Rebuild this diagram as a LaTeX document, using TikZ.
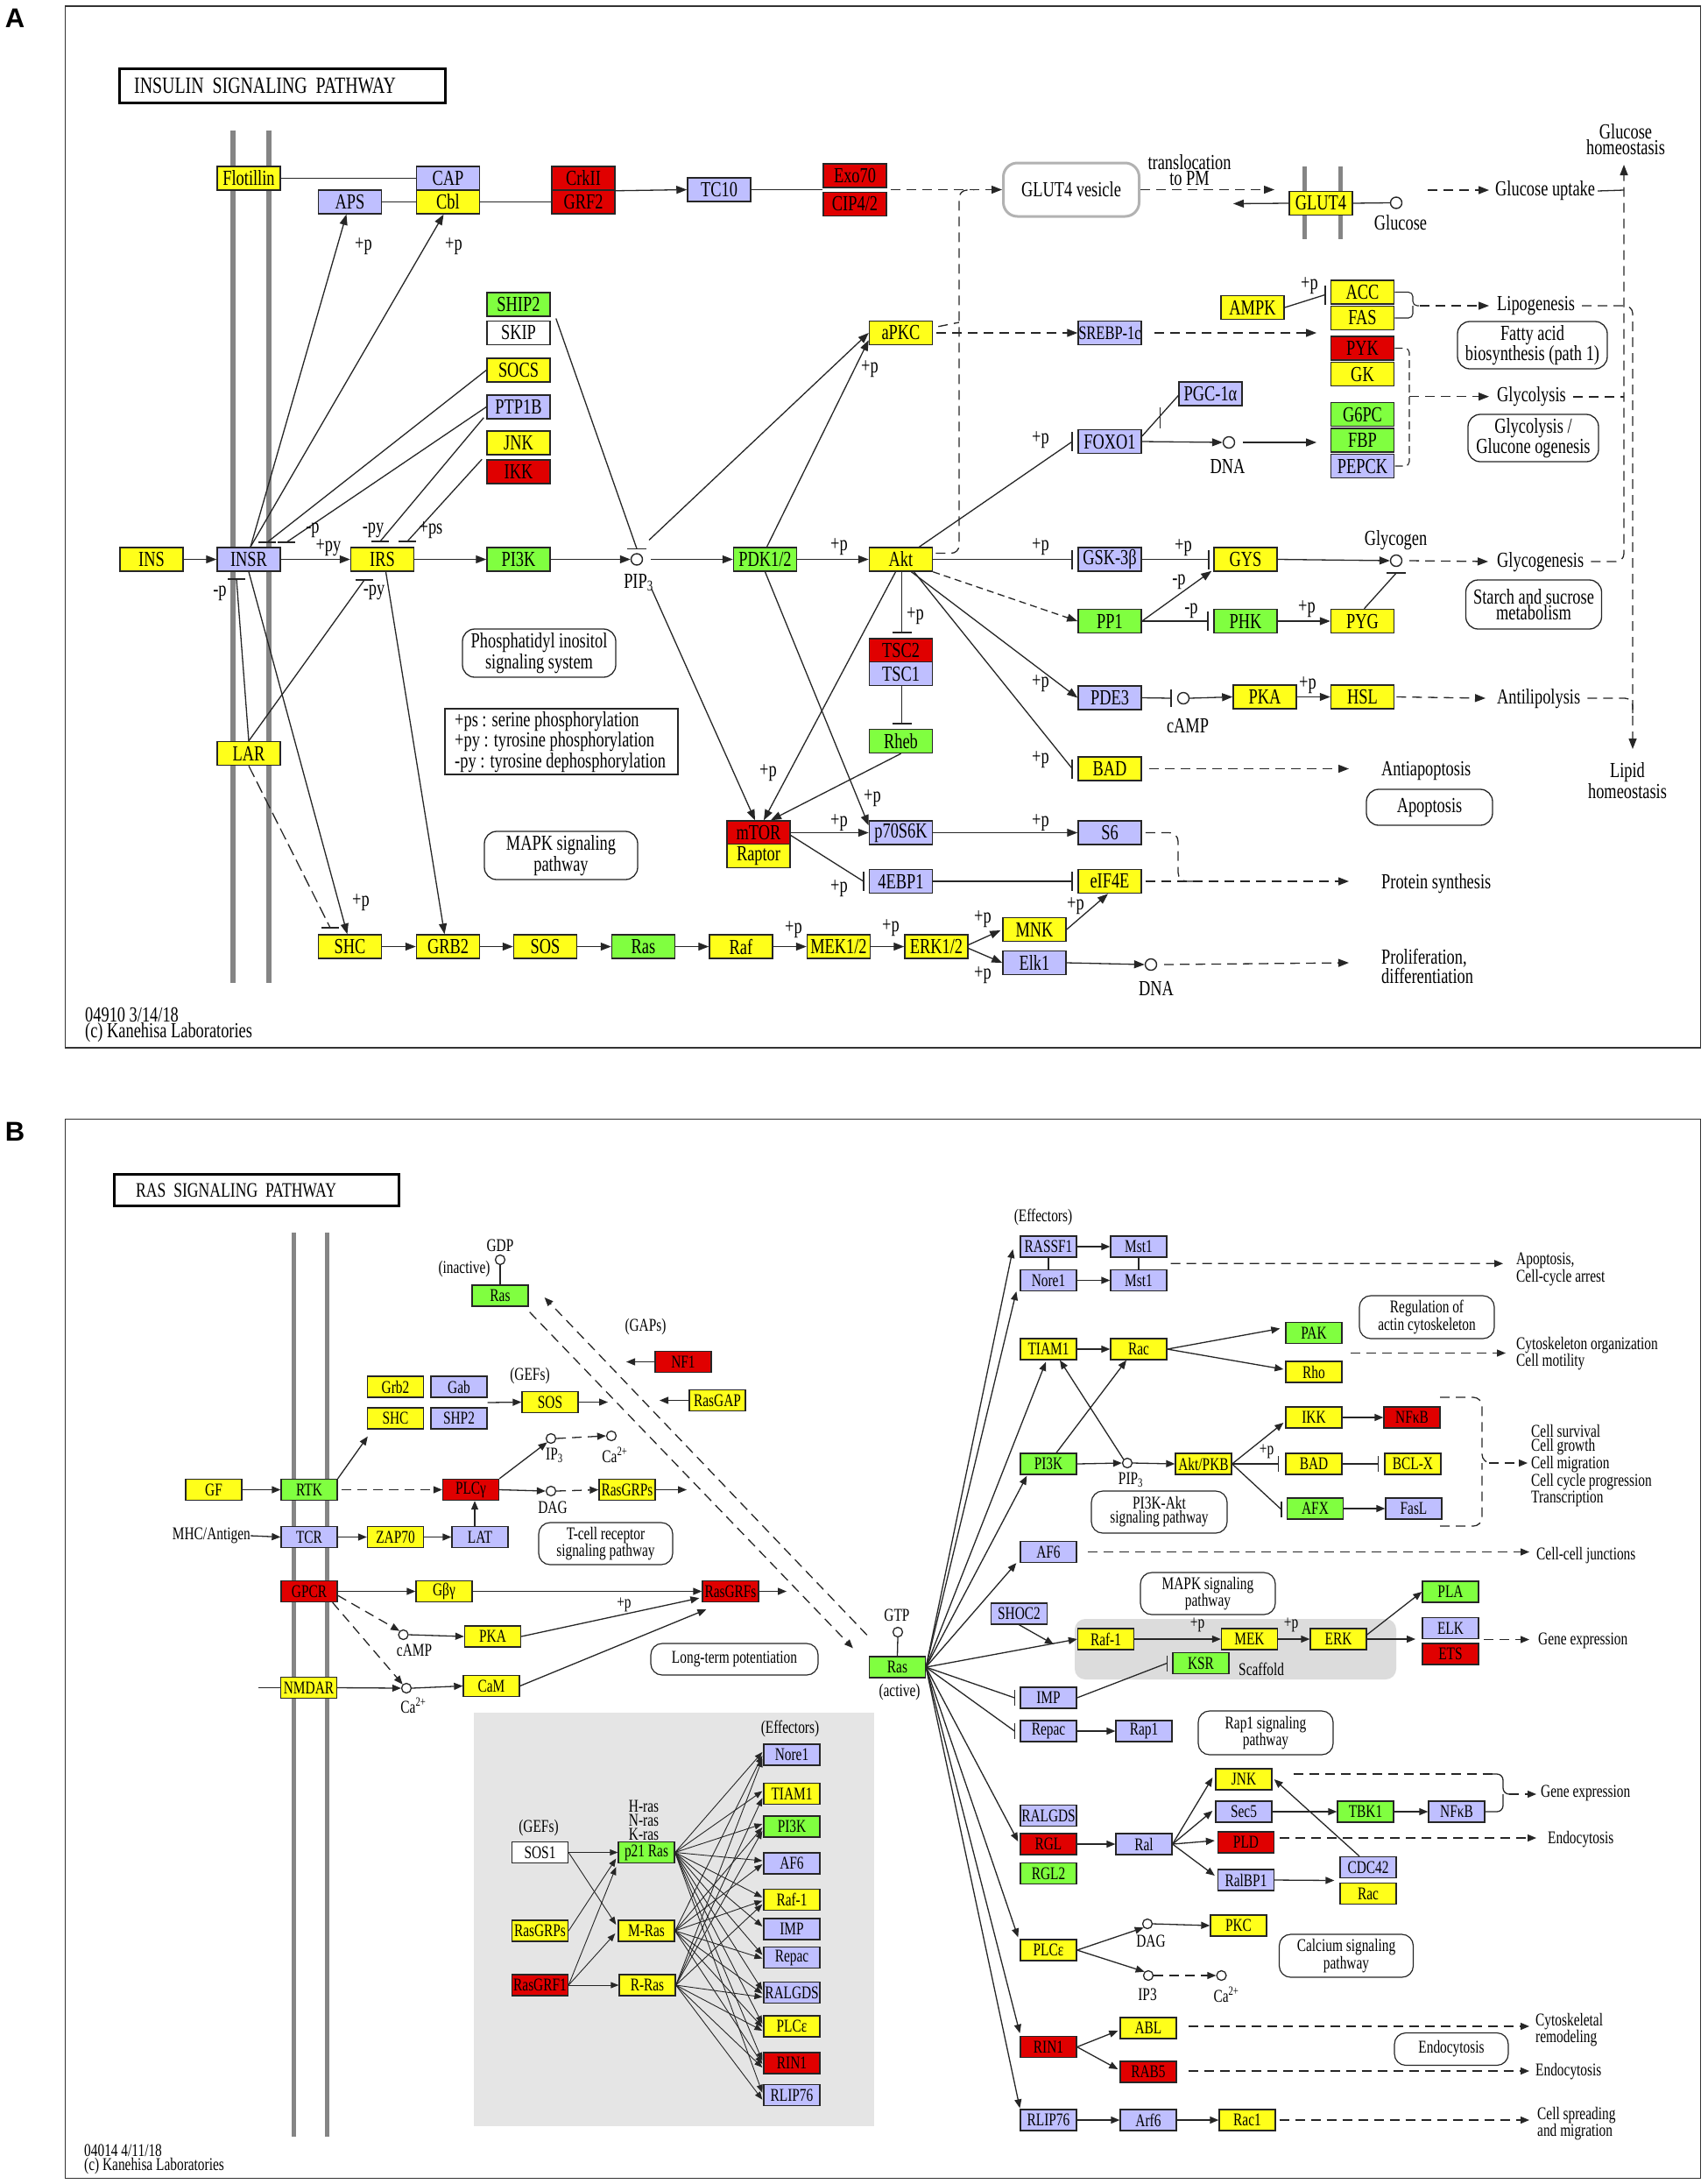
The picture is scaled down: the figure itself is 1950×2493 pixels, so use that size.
\documentclass[tikz,border=0pt]{standalone}
\usepackage{fontspec}
\setmainfont{Liberation Serif}
\newfontfamily\kf{Liberation Serif}[FakeStretch=0.75]
\newfontfamily\lsans{Liberation Sans}
\newcommand\kfa{\kf\fontsize{24.5}{18}\selectfont}
\newcommand\kfb{\kf\fontsize{20.5}{16}\selectfont}
\usetikzlibrary{arrows.meta,calc}
\definecolor{kyel}{HTML}{FFFF1A}
\definecolor{klav}{HTML}{BFBFFF}
\definecolor{kgrn}{HTML}{80FF40}
\definecolor{kred}{HTML}{E00000}
\definecolor{kgray}{HTML}{858585}
\definecolor{kbg}{HTML}{E5E5E5}
\definecolor{kscf}{HTML}{DCDCDC}
\newcommand\inhV[3][11]{\draw[ln] #2 -- #3 coordinate (tmpb); \draw[barst] ($(tmpb)+(0,-#1)$) -- ($(tmpb)+(0,#1)$);}
\newcommand\inhH[3][11]{\draw[ln] #2 -- #3 coordinate (tmpb); \draw[barst] ($(tmpb)+(-#1,0)$) -- ($(tmpb)+(#1,0)$);}
\begin{document}
\begin{tikzpicture}[x=1pt,y=-1pt,
  bx/.style={draw=black!85,line width=1.5pt,minimum width=72pt,minimum height=27pt,inner sep=0pt,font=\kfa},
  bxb/.style={draw=black!85,line width=1.3pt,minimum width=64pt,minimum height=24pt,inner sep=0pt,font=\kfb},
  cY/.style={fill=kyel},cL/.style={fill=klav},cG/.style={fill=kgrn},cR/.style={fill=kred},cW/.style={fill=white},
  ln/.style={line width=1.3pt,draw=black!85},
  ar/.style={ln,-{Triangle[length=12pt,width=9pt]}},
  arb/.style={ln,-{Triangle[length=10pt,width=8pt]}},
  ars/.style={line width=0.9pt,draw=black!85,-{Triangle[length=9pt,width=7pt]}},
  dsh/.style={dash pattern=on 11pt off 7pt},
  barst/.style={line width=1.6pt,draw=black!85},
  cir/.style={circle,draw=black!85,line width=1.4pt,minimum size=13pt,inner sep=0pt,fill=white},
  cirb/.style={circle,draw=black!85,line width=1.3pt,minimum size=11pt,inner sep=0pt,fill=white},
  rbox/.style={draw=black!85,line width=1.3pt,rounded corners=14pt,align=center,font=\kfa,inner sep=0pt},
  rboxb/.style={draw=black!85,line width=1.2pt,rounded corners=13pt,align=center,font=\kfb,inner sep=0pt},
  lbl/.style={font=\kfa,inner sep=0pt},
  lblb/.style={font=\kfb,inner sep=0pt},
]
\useasboundingbox (0,0) rectangle (1950,2493);
\fill[white] (0,0) rectangle (1950,2493);

%%%%%%%%%%%%%%%%%%%%%%%% PANEL A %%%%%%%%%%%%%%%%%%%%%%%%
\draw[line width=1.6pt,black!80] (74.5,7) rectangle (1941.5,1196);
\node[font=\lsans\bfseries\fontsize{31}{31}\selectfont,inner sep=0pt] (labA) at (17,21) {A};
\draw[line width=3pt] (136,78) rectangle (508,117);
\node[font=\kf\fontsize{26.5}{26.5}\selectfont,inner sep=0pt,anchor=west] (titA) at (153,97.5) {INSULIN\ \ SIGNALING\ \ PATHWAY};

\draw[line width=5.5pt,kgray] (266,148.5) -- (266,1121.5);
\draw[line width=5.5pt,kgray] (307,148.5) -- (307,1121.5);
\draw[line width=5pt,kgray] (1489,190) -- (1489,273);
\draw[line width=5pt,kgray] (1530,190) -- (1530,273);

% nodes
\node[bx,cY] (flot) at (284,203.5) {Flotillin};
\node[bx,cL] (cap) at (511.5,203.5) {CAP};
\node[bx,cY] (cbl) at (511.5,230.5) {Cbl};
\node[bx,cL] (aps) at (399.5,230.5) {APS};
\node[bx,cR] (crk) at (666,203.5) {CrkII};
\node[bx,cR] (grf2) at (666,230.5) {GRF2};
\node[bx,cL] (tc10) at (821,216.5) {TC10};
\node[bx,cR] (exo) at (976,200.5) {Exo70};
\node[bx,cR] (cip) at (976,233) {CIP4/2};
\node[rbox,draw=gray!60,line width=3pt,rounded corners=16pt,minimum width=155pt,minimum height=61pt] (ves) at (1223,216.5) {GLUT4 vesicle};
\node[bx,cY] (glut4) at (1508,232) {GLUT4};
\node[cir] (gluc) at (1594,231.5) {};

\node[bx,cG] (ship2) at (592,347.5) {SHIP2};
\node[bx,cW] (skip) at (592,380) {SKIP};
\node[bx,cY] (socs) at (592,422.5) {SOCS};
\node[bx,cL] (ptp) at (592,464.5) {PTP1B};
\node[bx,cY] (jnk) at (592,505.5) {JNK};
\node[bx,cR] (ikk) at (592,538.5) {IKK};

\node[bx,cY] (apkc) at (1028.5,380) {aPKC};
\node[bx,cL,font=\kf\fontsize{22}{18}\selectfont] (srebp) at (1267,380) {SREBP-1c};
\node[bx,cY] (ampk) at (1430,351) {AMPK};
\node[bx,cY] (acc) at (1555.5,333.5) {ACC};
\node[bx,cY] (fas) at (1555.5,363) {FAS};
\node[bx,cR] (pyk) at (1555.5,397.5) {PYK};
\node[bx,cY] (gk) at (1555.5,427) {GK};
\node[bx,cG] (g6pc) at (1555.5,473) {G6PC};
\node[bx,cG] (fbp) at (1555.5,502.5) {FBP};
\node[bx,cL] (pepck) at (1555.5,532) {PEPCK};
\node[bx,cL] (pgc) at (1382,449.5) {PGC-1α};
\node[bx,cL] (foxo) at (1267,504) {FOXO1};
\node[cir] (dna1) at (1403,505) {};

\node[bx,cY] (ins) at (173,638.5) {INS};
\node[bx,cL] (insr) at (284,638.5) {INSR};
\node[bx,cY] (irs) at (436.5,638.5) {IRS};
\node[bx,cG] (pi3k) at (592,638.5) {PI3K};
\node[cir] (pip3) at (727,638.5) {};
\node[bx,cG] (pdk) at (873.5,638.5) {PDK1/2};
\node[bx,cY] (akt) at (1028.5,638.5) {Akt};
\node[bx,cL] (gsk) at (1267,638.5) {GSK-3β};
\node[bx,cY] (gys) at (1422,638.5) {GYS};
\node[cir] (glyc) at (1594,640) {};
\node[bx,cG] (pp1) at (1267,709) {PP1};
\node[bx,cG] (phk) at (1422,709) {PHK};
\node[bx,cY] (pyg) at (1555.5,709) {PYG};
\node[bx,cR] (tsc2) at (1028.5,742.5) {TSC2};
\node[bx,cL] (tsc1) at (1028.5,769) {TSC1};
\node[bx,cL] (pde3) at (1267,796.5) {PDE3};
\node[cir] (camp) at (1351,797) {};
\node[bx,cY] (pka) at (1444,795.5) {PKA};
\node[bx,cY] (hsl) at (1555.5,795.5) {HSL};
\node[bx,cG] (rheb) at (1028.5,846) {Rheb};
\node[bx,cY] (lar) at (284,860) {LAR};
\node[bx,cY] (bad) at (1267,877.5) {BAD};
\node[bx,cR] (mtor) at (866,950.5) {mTOR};
\node[bx,cY] (raptor) at (866,977) {Raptor};
\node[bx,cL] (p70) at (1028.5,950.5) {p70S6K};
\node[bx,cL] (s6) at (1267,950.5) {S6};
\node[bx,cL] (ebp) at (1028.5,1006) {4EBP1};
\node[bx,cY] (eif) at (1267,1006) {eIF4E};
\node[bx,cY] (mnk) at (1181,1061) {MNK};
\node[bx,cL] (elk1) at (1181,1099) {Elk1};
\node[cir] (dna2) at (1314,1101) {};
\node[bx,cY] (shc) at (399.5,1080.5) {SHC};
\node[bx,cY] (grb2) at (511.5,1080.5) {GRB2};
\node[bx,cY] (sos) at (622.5,1080.5) {SOS};
\node[bx,cG] (rasp) at (734.5,1080.5) {Ras};
\node[bx,cY] (rafa) at (846,1080.5) {Raf};
\node[bx,cY] (meka) at (957.5,1080.5) {MEK1/2};
\node[bx,cY] (erka) at (1069,1080.5) {ERK1/2};

% rounded boxes and legend
\node[rbox,minimum width=175pt,minimum height=55pt] (rbPI) at (615.5,745.5) {Phosphatidyl inositol\\signaling system};
\node[rbox,minimum width=175pt,minimum height=55pt] (rbMAPK) at (640.5,976.5) {MAPK signaling\\pathway};
\node[rbox,minimum width=171pt,minimum height=54pt] (rbFA) at (1749.5,394) {Fatty acid\\biosynthesis (path 1)};
\node[rbox,minimum width=149pt,minimum height=54pt] (rbGly) at (1750.5,500) {Glycolysis /\\Glucone ogenesis};
\node[rbox,minimum width=155pt,minimum height=56pt] (rbSS) at (1751,690) {Starch and sucrose\\metabolism};
\node[rbox,minimum width=144pt,minimum height=41pt] (rbApo) at (1632,921.5) {Apoptosis};
\draw[line width=1.5pt,black!85] (508,809) rectangle (774,884);
\node[lbl,anchor=west,align=left] (legend) at (519,847) {+ps : serine phosphorylation\\+py : tyrosine phosphorylation\\-py : tyrosine dephosphorylation};
\node[lbl,anchor=west,align=left] (footA) at (97,1170) {04910 3/14/18\\(c) Kanehisa Laboratories};

% connectors top
\draw[ln] (flot.east) -- (cap.west);
\draw[ln] (aps.east) -- (cbl.west);
\draw[ln] (cbl.east) -- (grf2.west);
\draw[ar] (crk.south east) -- (tc10.west);
\coordinate (exoj) at (exo.south west |- tc10.east);
\coordinate (exok) at (exo.south east |- tc10.east);
\draw[ln] (tc10.east) -- (exoj);
\draw[ar,dsh] ($(exok)+(4,0)$) -- (ves.west);
\coordinate (glutin) at (1455,216.5);
\draw[ar,dsh] (ves.east) -- (glutin);
\node[lbl,align=center] (transl) at (1358,194) {translocation\\to PM};
\coordinate (glutout) at (1408,232.5);
\draw[ar] (glut4.west) -- (glutout);
\draw[ln] (glut4.east) -- (gluc.west);
\node[lbl] (glucl) at (1599,254) {Glucose};
\coordinate (gu1) at (1630,217);
\coordinate (gu2) at (1700,217);
\draw[ar,dsh] (gu1) -- (gu2);
\node[lbl,anchor=west] (gupt) at (1707,218) {Glucose uptake};
\coordinate (vx1) at (1854,217);
\draw[ln] ($(gupt.east)+(3,0)$) -- (vx1);
\node[lbl,align=center] (ghomeo) at (1856,159) {Glucose\\homeostasis};
\node[lbl,anchor=west] (glygen) at (1709,642) {Glycogenesis};
\coordinate (vtop) at (1854,188);
\draw[ar,dsh,rounded corners=9pt] ($(glygen.east)+(8,-1)$) -- (1854,641) -- (vtop);
\node[lbl,anchor=west] (glycol) at (1709,453) {Glycolysis};
\draw[ln,dsh] ($(glycol.east)+(8,0)$) -- (1854,453);
\node[lbl,anchor=west] (lipo) at (1709,349) {Lipogenesis};
\coordinate (lipidtip) at (1864,855);
\draw[ar,dsh,rounded corners=9pt] ($(lipo.east)+(8,0)$) -- (1864,349) -- (lipidtip);
\node[lbl,anchor=west] (antil) at (1709,798) {Antilipolysis};
\draw[ln,dsh,rounded corners=9pt] ($(antil.east)+(8,-1)$) -- (1864,797) -- (1864,814);
\node[lbl,align=center] (lhomeo) at (1858,891) {Lipid\\homeostasis};

\inhV{(ampk.east)}{($(acc.west)+(-6,3)$)}
\node[lbl] (pA1) at (1495,326) {+p};
\draw[ln,line width=1.1pt,rounded corners=5pt] (acc.east) -- (1613,333.5) -- (1613,349) -- (1620,349);
\draw[ln,line width=1.1pt,rounded corners=5pt] (fas.east) -- (1613,363) -- (1613,349);
\coordinate (lipoS) at (1621,349);
\coordinate (lipoE) at (1700,349);
\draw[ar,dsh] (lipoS) -- (lipoE);
\draw[ln,line width=1.1pt,dash pattern=on 9pt off 5pt,rounded corners=5pt] (pyk.east) -- (1609,397.5) -- (1609,532) -- (pepck.east);
\coordinate (glyS) at (1609,452.7);
\coordinate (glyE) at (1700,452.7);
\draw[ar,dsh] (glyS) -- (glyE);
\coordinate (srebpE) at (1503,380);
\draw[ar,dsh] ($(srebp.east)+(14,0)$) -- (srebpE);
\draw[ar] (foxo.east) -- (dna1.west);
\coordinate (dnaE) at (1503,505);
\draw[ar] ($(dna1.east)+(9,0)$) -- (dnaE);
\node[lbl] (dnal1) at (1401.5,532) {DNA};
\draw[ln] ($(foxo.east)+(0,-6)$) -- ($(pgc.west)+(0,2)$);
\coordinate (fpm) at ($(foxo.east)!0.5!(pgc.west)$);
\draw[barst] ($(fpm)+(0,-12)$) -- ($(fpm)+(0,12)$);
\inhV{($(akt.north)+(21,0)$)}{($(foxo.west)+(-6,0)$)}
\node[lbl] (pA2) at (1188,502) {+p};
\draw[ar] ($(pip3)+(14,-22)$) -- (apkc.west);
\draw[ar] ($(pdk.north)+(2,0)$) -- ($(apkc.south west)+(0,-6)$);
\node[lbl] (pA3) at (993,421) {+p};
\draw[ar,dsh] ($(apkc.east)+(4,0)$) -- (srebp.west);
\draw[ln,dsh] ($(apkc.north east)+(6,7)$) -- (1095,368);
\draw[ln,dsh,rounded corners=9pt] ($(akt.east)+(3,-7)$) -- (1095,631.5) -- (1095,217) -- (1112,217);

% main row
\draw[ar] (ins.east) -- (insr.west);
\draw[ar] (insr.east) -- (irs.west);
\node[lbl] (pA4) at (375,625) {+py};
\draw[ar] (irs.east) -- (pi3k.west);
\draw[ar] (pi3k.east) -- (pip3.west);
\draw[ar] ($(pip3.east)+(9,0)$) -- (pdk.west);
\node[lbl] (pip3l) at (729,665) {PIP\textsubscript{3}};
\draw[ar] (pdk.east) -- (akt.west);
\node[lbl] (pA5) at (958,624) {+p};

\draw[ar] ($(insr.north)+(2,0)$) -- ($(aps.south)+(-4,0)$);
\draw[ar] ($(insr.north)+(2,0)$) -- ($(cbl.south)+(-5,0)$);
\node[lbl] (pA6) at (415,281) {+p};
\node[lbl] (pA7) at (518,281) {+p};
\coordinate (bi1) at (305,619);
\coordinate (bi2) at (327,619);
\coordinate (bi3) at (434,618);
\coordinate (bi4) at (465,618);
\draw[ln] (socs.west) -- (bi1);
\draw[ln] (ptp.west) -- (bi2);
\draw[ln] ($(ptp.south west)+(-3,-2)$) -- (bi3);
\draw[ln] ($(ikk.north west)+(-5,0)$) -- (bi4);
\foreach \q in {bi1,bi2,bi3,bi4} \draw[barst] ($(\q)+(-10,0)$) -- ($(\q)+(10,0)$);
\node[lbl] (mA1) at (357,605) {-p};
\node[lbl] (mA2) at (426,605) {-py};
\node[lbl] (pA8) at (492,605) {+ps};
\inhH{($(ship2.east)+(6,16)$)}{($(pip3.north)+(0,-5)$)}
\coordinate (bl1) at (270,661);
\coordinate (bl2) at (416,662);
\draw[ln] (lar.north) -- (bl1);
\draw[ln] (lar.north) -- (bl2);
\draw[barst] ($(bl1)+(-10,0)$) -- ($(bl1)+(10,0)$);
\draw[barst] ($(bl2)+(-10,0)$) -- ($(bl2)+(10,0)$);
\node[lbl] (mA3) at (251,677) {-p};
\node[lbl] (mA4) at (427,676) {-py};
\draw[ar] (insr.south) -- ($(shc.north)+(-3,0)$);
\coordinate (bl3) at (377,1059);
\draw[ln,dash pattern=on 14pt off 6pt] (lar.south) -- (bl3);
\draw[barst] ($(bl3)+(-10,0)$) -- ($(bl3)+(10,0)$);
\node[lbl] (pA9) at (412,1030) {+p};
\draw[ar] ($(irs.south)+(4,0)$) -- ($(grb2.north)+(-4,0)$);
\draw[ar] (shc.east) -- (grb2.west);
\draw[ar] (grb2.east) -- (sos.west);
\draw[ar] (sos.east) -- (rasp.west);
\draw[ar] (rasp.east) -- (rafa.west);
\draw[ar] (rafa.east) -- (meka.west);
\draw[ar] (meka.east) -- (erka.west);
\node[lbl] (pA10) at (906,1061) {+p};
\node[lbl] (pA11) at (1017,1059) {+p};
\draw[ar] ($(erka.east)+(0,-2)$) -- ($(mnk.west)+(-2,1)$);
\draw[ar] ($(erka.east)+(0,2)$) -- (elk1.west);
\node[lbl] (pA12) at (1122,1049) {+p};
\node[lbl] (pA13) at (1122,1113) {+p};
\draw[ar] (mnk.east) -- ($(eif.south)+(-2,0)$);
\node[lbl] (pA14) at (1228,1034) {+p};
\draw[ar] (elk1.east) -- (dna2.west);
\node[lbl] (dnal2) at (1320,1128) {DNA};
\coordinate (prolE) at (1540,1099);
\draw[ar,dsh] ($(dna2.east)+(8,0)$) -- (prolE);
\node[lbl,anchor=west,align=left] (prolif) at (1577,1103) {Proliferation,\\differentiation};

% mTOR area
\draw[ar] ($(pip3)+(17,34)$) -- ($(mtor.north)+(-4,0)$);
\draw[ar] ($(akt.south)+(-6,0)$) -- ($(mtor.north)+(6,0)$);
\node[lbl] (pA15) at (877,882) {+p};
\draw[ar] (rheb.south) -- ($(mtor.north)+(14,0)$);
\draw[ar] (pdk.south) -- ($(p70.north west)+(0,6)$);
\node[lbl] (pA16) at (996,911) {+p};
\inhH{($(akt.south)+(1,0)$)}{($(tsc2.north)+(1,-6)$)}
\node[lbl] (pA17) at (1045,703) {+p};
\inhH{($(tsc1.south)+(1,0)$)}{($(rheb.north)+(1,-6)$)}
\draw[ar] (mtor.east) -- (p70.west);
\node[lbl] (pA18) at (958,939) {+p};
\inhV{($(mtor.east)+(0,3)$)}{($(ebp.west)+(-6,0)$)}
\node[lbl] (pA19) at (958,1014) {+p};
\inhV{(ebp.east)}{($(eif.west)+(-6,0)$)}
\draw[ar] (p70.east) -- (s6.west);
\node[lbl] (pA20) at (1188,939) {+p};
\draw[ln,dsh,rounded corners=10pt] ($(s6.east)+(4,0)$) -- (1345,950.5) -- (1345,1006) -- (1362,1006);
\coordinate (protE) at (1540,1006);
\draw[ar,dsh] ($(eif.east)+(4,0)$) -- (protE);
\node[lbl,anchor=west] (prot) at (1577,1009) {Protein synthesis};

% Akt right side
\inhV{(akt.east)}{($(gsk.west)+(-6,0)$)}
\node[lbl] (pA21) at (1188,624) {+p};
\draw[ar,dash pattern=on 8pt off 5pt] (akt.south east) -- (pp1.west);
\draw[ar] ($(akt.south)+(12,0)$) -- (pde3.west);
\node[lbl] (pA22) at (1188,780) {+p};
\inhV{($(akt.south)+(15,0)$)}{($(bad.west)+(-6,0)$)}
\node[lbl] (pA23) at (1188,867) {+p};
\inhV{(gsk.east)}{($(gys.west)+(-5,0)$)}
\node[lbl] (pA24) at (1351,625) {+p};
\draw[ar] (pp1.east) -- ($(gys.south west)+(-2,-1)$);
\node[lbl] (mA5) at (1346,664) {-p};
\inhV{(pp1.east)}{($(phk.west)+(-6,0)$)}
\node[lbl] (mA6) at (1360,697) {-p};
\draw[ar] (phk.east) -- (pyg.west);
\node[lbl] (pA25) at (1492,695) {+p};
\draw[ar] (gys.east) -- (glyc.west);
\inhH{($(pyg.north)+(2,0)$)}{($(glyc.south)+(0,7)$)}
\node[lbl] (glycl) at (1593.5,617) {Glycogen};
\coordinate (glygE) at (1699,641);
\draw[ar,dsh] ($(glyc.east)+(8,0)$) -- (glygE);
\inhV[10]{(pde3.east)}{($(camp.west)+(-7,0)$)}
\node[lbl] (campl) at (1356,829) {cAMP};
\draw[ar] (camp.east) -- (pka.west);
\draw[ar] (pka.east) -- (hsl.west);
\node[lbl] (pA26) at (1493,782) {+p};
\coordinate (antiE) at (1696,797);
\draw[ar,dsh] ($(hsl.east)+(2,0)$) -- (antiE);
\coordinate (apopE) at (1540,877.5);
\draw[ar,dsh] ($(bad.east)+(8,0)$) -- (apopE);
\node[lbl,anchor=west] (antiap) at (1577,880) {Antiapoptosis};

%%%%%%%%%%%%%%%%%%%%%%%% PANEL B %%%%%%%%%%%%%%%%%%%%%%%%
\draw[line width=1.6pt,black!80] (74.5,1277.5) rectangle (1941.5,2486.5);
\node[font=\lsans\bfseries\fontsize{31}{31}\selectfont,inner sep=0pt] (labB) at (17,1292) {B};
\draw[line width=3pt] (130,1340) rectangle (455,1376);
\node[font=\kf\fontsize{23.5}{23.5}\selectfont,inner sep=0pt,anchor=west] (titB) at (155,1358.5) {RAS\ \ SIGNALING\ \ PATHWAY};

\fill[kbg] (541,1955) rectangle (998,2427);
\fill[kscf,rounded corners=12pt] (1227,1848) rectangle (1594,1917);
\draw[line width=5pt,kgray] (335,1407) -- (335,2439);
\draw[line width=5pt,kgray] (373,1407) -- (373,2439);

\node[bxb,cG] (rasI) at (571,1479) {Ras};
\node[cirb] (gdp) at (571,1438) {};
\node[bxb,cY] (grb2b) at (451.5,1583) {Grb2};
\node[bxb,cL] (gab) at (524,1583) {Gab};
\node[bxb,cY] (shcb) at (451.5,1619) {SHC};
\node[bxb,cL] (shp2) at (524,1619) {SHP2};
\node[bxb,cY] (sosb) at (628,1600.5) {SOS};
\node[bxb,cR] (nf1) at (780,1554.5) {NF1};
\node[bxb,cY] (rasgap) at (819,1598.5) {RasGAP};
\node[bxb,cY] (gf) at (244,1700.5) {GF};
\node[bxb,cG] (rtk) at (353,1700.5) {RTK};
\node[bxb,cR] (plcg) at (537.5,1700.5) {PLCγ};
\node[bxb,cY] (rasgrps) at (716,1700.5) {RasGRPs};
\node[cirb] (ip3a) at (629,1642) {};
\node[cirb] (caa) at (698,1639) {};
\node[cirb] (daga) at (629,1702) {};
\node[bxb,cL] (tcr) at (353,1754.5) {TCR};
\node[bxb,cY] (zap70) at (451.5,1754.5) {ZAP70};
\node[bxb,cL] (lat) at (548,1754.5) {LAT};
\node[bxb,cR] (gpcr) at (353,1816.5) {GPCR};
\node[bxb,cY] (gbg) at (507,1816.5) {Gβγ};
\node[bxb,cR] (rasgrfs) at (834,1816.5) {RasGRFs};
\node[cirb] (campb) at (460.5,1866) {};
\node[cirb] (cab) at (464,1927) {};
\node[bxb,cY] (pkab) at (562.5,1868) {PKA};
\node[bxb,cY] (cam) at (561,1924.5) {CaM};
\node[bxb,cY] (nmdar) at (352.5,1926.5) {NMDAR};
\node[bxb,cG] (rasA) at (1024.5,1903) {Ras};
\node[cirb] (gtp) at (1025,1863) {};

\node[bxb,cL] (rassf1) at (1197,1423) {RASSF1};
\node[bxb,cL] (mst1a) at (1300,1423) {Mst1};
\node[bxb,cL] (nore1) at (1197,1461.5) {Nore1};
\node[bxb,cL] (mst1b) at (1300,1461.5) {Mst1};
\node[bxb,cY] (tiam1) at (1197,1540) {TIAM1};
\node[bxb,cY] (racb) at (1300,1540) {Rac};
\node[bxb,cG] (pak) at (1500,1521.5) {PAK};
\node[bxb,cY] (rho) at (1500,1566) {Rho};
\node[bxb,cG] (pi3kb) at (1197,1671) {PI3K};
\node[cirb] (pip3b) at (1287,1670) {};
\node[bxb,cY] (aktb) at (1374,1671) {Akt/PKB};
\node[bxb,cY] (ikkb) at (1500,1618) {IKK};
\node[bxb,cR] (nfkb) at (1612,1618) {NFκB};
\node[bxb,cY] (badb) at (1500,1671) {BAD};
\node[bxb,cY] (bclx) at (1613,1671) {BCL-X};
\node[bxb,cG] (afx) at (1501.5,1722) {AFX};
\node[bxb,cL] (fasl) at (1614,1722) {FasL};
\node[bxb,cL] (af6) at (1197,1771.5) {AF6};
\node[bxb,cL] (shoc2) at (1163.5,1842) {SHOC2};
\node[bxb,cY] (raf1) at (1262.5,1871) {Raf-1};
\node[bxb,cY] (mekb) at (1426.5,1871) {MEK};
\node[bxb,cY] (erkb) at (1528,1871) {ERK};
\node[bxb,cG] (ksr) at (1371,1898.5) {KSR};
\node[bxb,cL] (elk) at (1656,1858.5) {ELK};
\node[bxb,cR] (ets) at (1656,1888) {ETS};
\node[bxb,cG] (pla) at (1656,1817) {PLA};
\node[bxb,cL] (imp) at (1197,1938) {IMP};
\node[bxb,cL] (repac) at (1197,1976) {Repac};
\node[bxb,cL] (rap1) at (1306,1976) {Rap1};
\node[bxb,cY] (jnkb) at (1420,2031) {JNK};
\node[bxb,cL] (sec5) at (1420,2068) {Sec5};
\node[bxb,cR] (pld) at (1422.5,2103) {PLD};
\node[bxb,cL] (ralbp1) at (1422.5,2146) {RalBP1};
\node[bxb,cL] (ralgds) at (1197,2072.5) {RALGDS};
\node[bxb,cR] (rgl) at (1197,2105) {RGL};
\node[bxb,cG] (rgl2) at (1197,2138.5) {RGL2};
\node[bxb,cL] (ral) at (1306,2105) {Ral};
\node[bxb,cG] (tbk1) at (1559,2068) {TBK1};
\node[bxb,cL] (nfkb2) at (1663,2068) {NFκB};
\node[bxb,cL] (cdc42) at (1562,2131.5) {CDC42};
\node[bxb,cY] (rac2) at (1562,2161.5) {Rac};
\node[bxb,cY] (plce) at (1197,2226) {PLCε};
\node[cirb] (dagb) at (1310,2196) {};
\node[cirb] (ip3b) at (1311,2255) {};
\node[cirb] (cab2) at (1394.5,2255) {};
\node[bxb,cY] (pkc) at (1414,2198) {PKC};
\node[bxb,cR] (rin1) at (1197,2336.5) {RIN1};
\node[bxb,cY] (abl) at (1311,2315) {ABL};
\node[bxb,cR] (rab5) at (1311,2365) {RAB5};
\node[bxb,cL] (rlip) at (1197,2420) {RLIP76};
\node[bxb,cL] (arf6) at (1311,2420) {Arf6};
\node[bxb,cY] (rac1) at (1424,2420) {Rac1};

\node[bxb,cW] (sos1) at (616.5,2114.5) {SOS1};
\node[bxb,cY] (rasgrps2) at (616.5,2204) {RasGRPs};
\node[bxb,cR] (rasgrf1) at (616.5,2266) {RasGRF1};
\node[bxb,cG] (p21) at (738,2114.5) {p21 Ras};
\node[bxb,cY] (mras) at (738,2204) {M-Ras};
\node[bxb,cY] (rras) at (739,2266) {R-Ras};
\node[bxb,cL] (nore1e) at (904,2003) {Nore1};
\node[bxb,cY] (tiam1e) at (904,2047.5) {TIAM1};
\node[bxb,cG] (pi3ke) at (904,2085) {PI3K};
\node[bxb,cL] (af6e) at (904,2127) {AF6};
\node[bxb,cY] (raf1e) at (904,2168.7) {Raf-1};
\node[bxb,cL] (impe) at (904,2202) {IMP};
\node[bxb,cL] (repace) at (904,2234.5) {Repac};
\node[bxb,cL] (ralgdse) at (904,2274.7) {RALGDS};
\node[bxb,cY] (plcee) at (904,2313) {PLCε};
\node[bxb,cR] (rin1e) at (904,2355) {RIN1};
\node[bxb,cL] (rlipe) at (904,2391.7) {RLIP76};

\node[rboxb,minimum width=153pt,minimum height=48pt] (rbTCR) at (691.5,1762) {T-cell receptor\\signaling pathway};
\node[rboxb,minimum width=191pt,minimum height=36pt] (rbLTP) at (838.5,1894) {Long-term potentiation};
\node[rboxb,minimum width=154pt,minimum height=49pt] (rbAct) at (1629,1503.5) {Regulation of\\actin cytoskeleton};
\node[rboxb,minimum width=155pt,minimum height=48pt] (rbPI3K) at (1323.5,1726) {PI3K-Akt\\signaling pathway};
\node[rboxb,minimum width=154pt,minimum height=48pt] (rbMAPKb) at (1379,1819) {MAPK signaling\\pathway};
\node[rboxb,minimum width=154pt,minimum height=50pt] (rbRap1) at (1445,1978) {Rap1 signaling\\pathway};
\node[rboxb,minimum width=153pt,minimum height=49pt] (rbCa) at (1537,2232.5) {Calcium signaling\\pathway};
\node[rboxb,minimum width=130pt,minimum height=37pt] (rbEndo) at (1657,2339) {Endocytosis};

% labels B
\node[lblb] (gdpl) at (571,1422) {GDP};
\node[lblb] (inact) at (530,1449) {(inactive)};
\node[lblb] (gaps) at (737,1515) {(GAPs)};
\node[lblb] (gefs) at (605,1571) {(GEFs)};
\node[lblb] (ip3al) at (633,1661) {IP\textsubscript{3}};
\node[lblb] (caal) at (702,1661) {Ca\textsuperscript{2+}};
\node[lblb] (dagal) at (631,1721) {DAG};
\node[lblb,anchor=east] (mhc) at (286,1753) {MHC/Antigen};
\node[lblb] (pB0) at (712.5,1832) {+p};
\node[lblb] (campbl) at (473,1884) {cAMP};
\node[lblb] (cabl) at (472,1947) {Ca\textsuperscript{2+}};
\node[lblb] (eff1) at (1191,1389) {(Effectors)};
\node[lblb,anchor=west,align=left] (apo) at (1731,1449) {Apoptosis,\\Cell-cycle arrest};
\node[lblb,anchor=west,align=left] (cyto) at (1731,1545) {Cytoskeleton organization\\Cell motility};
\node[lblb] (pip3bl) at (1291,1689) {PIP\textsubscript{3}};
\node[lblb] (pB1) at (1446,1657) {+p};
\node[lblb,anchor=west,align=left] (cells) at (1748,1673) {Cell survival\\Cell growth\\Cell migration\\Cell cycle progression\\Transcription};
\node[lblb,anchor=west] (ccj) at (1754,1776) {Cell-cell junctions};
\node[lblb] (gtpl) at (1024,1844) {GTP};
\node[lblb] (actl) at (1027,1932) {(active)};
\node[lblb] (pB2) at (1367,1855) {+p};
\node[lblb] (pB3) at (1474,1855) {+p};
\node[lblb,anchor=west] (scaf) at (1414,1905) {Scaffold};
\node[lblb,anchor=west] (gene1) at (1756,1873) {Gene expression};
\node[lblb,anchor=west] (gene2) at (1759,2047) {Gene expression};
\node[lblb,anchor=west] (endo1) at (1767,2100) {Endocytosis};
\node[lblb] (dagbl) at (1314,2216) {DAG};
\node[lblb] (ip3bl) at (1310,2277) {IP3};
\node[lblb] (cab2l) at (1400,2277) {Ca\textsuperscript{2+}};
\node[lblb,anchor=west,align=left] (cytr) at (1753,2317) {Cytoskeletal\\remodeling};
\node[lblb,anchor=west] (endo2) at (1753,2365) {Endocytosis};
\node[lblb,anchor=west,align=left] (cspread) at (1755,2424) {Cell spreading\\and migration};
\node[lblb] (eff2) at (902,1973) {(Effectors)};
\node[lblb] (gefs2) at (615,2087) {(GEFs)};
\node[lblb,align=center] (hras) at (735,2078) {H-ras\\N-ras\\K-ras};
\node[lblb,anchor=west,align=left] (footB) at (96,2465) {04014 4/11/18\\(c) Kanehisa Laboratories};

% connectors B left
\draw[ln] (rasI.north) -- (gdp.south);
\draw[ln] (rasA.north) -- (gtp.south);
\draw[arb,dsh] ($(rasI.south east)+(1,6)$) -- ($(rasA.north west)+(-18,-9)$);
\draw[arb,dsh] ($(rasA.north west)+(-2,-24)$) -- ($(rasI.east)+(18,2)$);
\draw[arb] (gf.east) -- (rtk.west);
\draw[arb] (rtk.north east) -- ($(shcb.south west)+(1,8)$);
\draw[arb,dsh] ($(rtk.east)+(4,0)$) -- (plcg.west);
\draw[arb] (plcg.north east) -- (ip3a.south west);
\draw[arb] (plcg.east) -- (daga.west);
\draw[arb,dsh] (ip3a.east) -- (caa.west);
\draw[arb,dsh] (daga.east) -- (rasgrps.west);
\coordinate (grpE) at (784,1700.5);
\draw[arb] (rasgrps.east) -- (grpE);
\draw[arb] (mhc.east) -- (tcr.west);
\draw[arb] (tcr.east) -- (zap70.west);
\draw[arb] (zap70.east) -- (lat.west);
\draw[arb] ($(lat.north)+(-6,0)$) -- ($(plcg.south)+(4.5,0)$);
\draw[arb] (gpcr.east) -- (gbg.west);
\draw[arb] (gbg.east) -- (rasgrfs.west);
\draw[arb,dsh] ($(gpcr.south east)+(0,-8)$) -- (campb.north west);
\draw[arb,dsh] ($(gpcr.south east)+(-6,0)$) -- (cab.north west);
\draw[arb] (campb.east) -- (pkab.west);
\draw[arb] (cab.east) -- (cam.west);
\coordinate (nmdaL) at (295,1926.5);
\draw[ln] (nmdaL) -- (nmdar.west);
\draw[arb] (nmdar.east) -- (cab.west);
\draw[arb] (pkab.east) -- ($(rasgrfs.south west)+(-3,-5)$);
\draw[arb] (cam.east) -- ($(rasgrfs.south west)+(5,8)$);
\coordinate (grfE) at (898,1816.5);
\draw[arb] (rasgrfs.east) -- (grfE);
\coordinate (gsmid) at ($(gab.south east)!0.5!(shp2.north east)$);
\draw[arb] (gsmid) -- (sosb.west);
\coordinate (sosE) at (694,1600.5);
\draw[arb] (sosb.east) -- (sosE);
\coordinate (nf1E) at (715,1554.5);
\draw[arb] (nf1.west) -- (nf1E);
\coordinate (gapE) at (753,1598.5);
\draw[arb] (rasgap.west) -- (gapE);

% inner gray box
\draw[ars] (sos1.east) -- (p21.west);
\draw[ars] (sos1.east) -- ($(mras.west)+(-2,-7)$);
\draw[ars] (rasgrps2.east) -- ($(p21.west)+(-2,7)$);
\draw[ars] (rasgrf1.east) -- ($(p21.south west)+(-2,4)$);
\draw[ars] (rasgrf1.east) -- ($(mras.west)+(-3,3)$);
\draw[ars] (rasgrf1.east) -- (rras.west);
\foreach \e in {nore1e,tiam1e,pi3ke,af6e,raf1e,impe,repace,ralgdse,plcee,rin1e,rlipe} \draw[ars] (p21.east) -- ($(\e.west)+(-1,-3)$);
\foreach \e in {nore1e,pi3ke,af6e,raf1e,repace,ralgdse,plcee,rin1e} \draw[ars] (mras.east) -- ($(\e.west)+(-1,1)$);
\foreach \e in {nore1e,tiam1e,pi3ke,raf1e,ralgdse,plcee,rin1e,rlipe} \draw[ars] (rras.east) -- ($(\e.west)+(-1,5)$);

% Ras effectors
\draw[arb] (rasA.east) -- ($(rassf1.west)+(-8,3)$);
\draw[arb] (rasA.east) -- ($(nore1.south west)+(-4,0)$);
\draw[arb] (rasA.east) -- ($(tiam1.south)+(-3,2)$);
\draw[arb] (rasA.east) -- ($(pi3kb.south west)+(8,1)$);
\draw[arb] (rasA.east) -- ($(af6.south west)+(-4,0)$);
\draw[arb] (rasA.east) -- (raf1.west);
\inhV[9]{(rasA.east)}{($(imp.west)+(-6,0)$)}
\inhV[9]{(rasA.east)}{($(repac.west)+(-6,0)$)}
\draw[arb] (rasA.east) -- ($(rgl.west)+(-2,-3)$);
\draw[arb] (rasA.east) -- ($(plce.north west)+(-2,-2)$);
\draw[arb] (rasA.east) -- ($(rin1.north west)+(0,-3)$);
\draw[arb] (rasA.east) -- ($(rlip.north west)+(0,-1)$);

\draw[arb] (rassf1.east) -- (mst1a.west);
\draw[arb] (nore1.east) -- (mst1b.west);
\draw[ln] (rassf1.south) -- (nore1.north);
\draw[ln] (mst1a.south) -- (mst1b.north);
\coordinate (mstmid) at ($(mst1a.south east)!0.5!(mst1b.north east)$);
\coordinate (apoE) at (1716,1442.3);
\draw[arb,dsh] ($(mstmid)+(4,0)$) -- (apoE);
\draw[arb] (tiam1.east) -- (racb.west);
\draw[arb] (racb.east) -- ($(pak.west)+(-6,-5)$);
\draw[arb] (racb.east) -- ($(rho.west)+(-2,-3)$);
\coordinate (cytS) at (1542,1544.5);
\coordinate (cytE) at (1719,1544.5);
\draw[arb,dsh] (cytS) -- (cytE);
\draw[arb] (pi3kb.east) -- (pip3b.west);
\draw[arb] (pip3b.east) -- (aktb.west);
\draw[arb] ($(pi3kb.north)+(9,0)$) -- ($(racb.south)+(-14,0)$);
\draw[arb] (pip3b.north west) -- ($(tiam1.south)+(13,0)$);
\draw[arb] (aktb.east) -- ($(ikkb.west)+(-2,6)$);
\inhV[9]{(aktb.east)}{($(badb.west)+(-8,0)$)}
\inhV[9]{(aktb.east)}{($(afx.west)+(-6,1)$)}
\draw[arb] (ikkb.east) -- (nfkb.west);
\inhV[9]{(badb.east)}{($(bclx.west)+(-7,0)$)}
\draw[arb] (afx.east) -- (fasl.west);
\draw[ln,dsh,rounded corners=10pt] (1644,1595) -- (1692,1595) -- (1692,1670) -- (1700,1670);
\draw[ln,dsh,rounded corners=10pt] (1644,1742) -- (1692,1742) -- (1692,1670);
\coordinate (csS) at (1700,1670);
\coordinate (csE) at (1744,1670);
\draw[arb,dsh] (csS) -- (csE);
\coordinate (ccjE) at (1746,1771.5);
\draw[arb,dsh] ($(af6.east)+(12,0)$) -- (ccjE);

\coordinate (shocE) at (1203,1877);
\draw[arb] (shoc2.south) -- (shocE);
\draw[arb] (raf1.east) -- (mekb.west);
\draw[arb] (mekb.east) -- (erkb.west);
\coordinate (erkE) at (1616,1871);
\draw[arb] (erkb.east) -- (erkE);
\draw[arb] ($(erkb.east)+(0,-5)$) -- (pla.west);
\coordinate (geS) at (1694,1871.5);
\coordinate (geE) at (1746,1871.5);
\draw[arb,dsh] (geS) -- (geE);
\inhV[9]{(imp.east)}{($(ksr.west)+(-6,0)$)}
\draw[arb] (repac.east) -- (rap1.west);
\draw[arb] (rgl.east) -- (ral.west);
\draw[arb] (ral.east) -- ($(jnkb.west)+(-3,-2)$);
\draw[arb] (ral.east) -- ($(sec5.west)+(-3,-1)$);
\draw[arb] (ral.east) -- ($(pld.west)+(-3,-2)$);
\draw[arb] (ral.east) -- ($(ralbp1.west)+(-3,-5)$);
\draw[arb] (sec5.east) -- (tbk1.west);
\draw[arb] (tbk1.east) -- (nfkb2.west);
\coordinate (cdmid) at ($(cdc42.south west)!0.5!(rac2.north west)$);
\draw[arb] (ralbp1.east) -- ($(cdmid)+(-6,0)$);
\draw[arb] ($(cdc42.north)+(-10,0)$) -- ($(jnkb.east)+(2,0)$);
\draw[ln,dsh] ($(jnkb.east)+(24,-6)$) -- (1706,2025);
\draw[ln,rounded corners=7pt] (1704,2025) -- (1716,2025) -- (1716,2048) -- (1723,2048);
\draw[ln,rounded corners=7pt] (nfkb2.east) -- (1716,2068) -- (1716,2048);
\coordinate (ge2S) at (1723,2048);
\coordinate (ge2E) at (1754,2048);
\draw[arb,dsh] (ge2S) -- (ge2E);
\coordinate (endE) at (1754,2098);
\draw[arb,dsh] ($(pld.east)+(6,-5)$) -- (endE);
\draw[arb] (plce.east) -- (dagb.south west);
\draw[arb] (plce.east) -- (ip3b.north west);
\draw[arb] (dagb.east) -- (pkc.west);
\draw[arb,dsh] (ip3b.east) -- (cab2.west);
\draw[arb] (rin1.east) -- ($(abl.west)+(-2,3)$);
\draw[arb] (rin1.east) -- ($(rab5.west)+(-2,-3)$);
\coordinate (ablE) at (1746,2313);
\draw[arb,dsh] ($(abl.east)+(13,-2)$) -- (ablE);
\coordinate (rabE) at (1746,2364);
\draw[arb,dsh] ($(rab5.east)+(13,-1)$) -- (rabE);
\draw[arb] (rlip.east) -- (arf6.west);
\draw[arb] (arf6.east) -- (rac1.west);
\coordinate (csprE) at (1746,2420);
\draw[arb,dsh] ($(rac1.east)+(4,0)$) -- (csprE);
\end{tikzpicture}
\end{document}
